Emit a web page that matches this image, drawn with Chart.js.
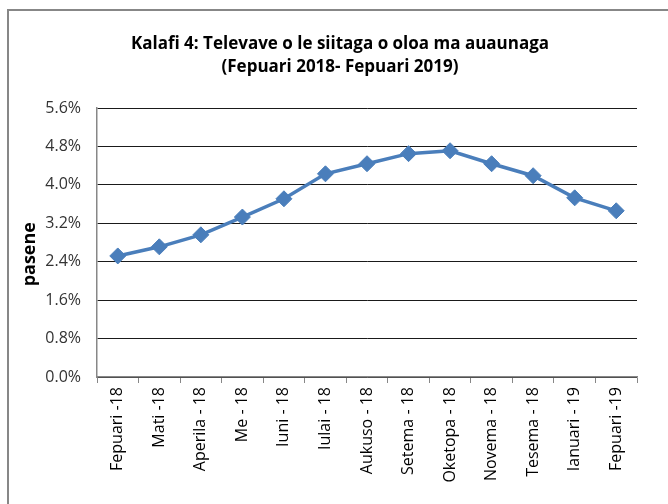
<!DOCTYPE html>
<html>
<head>
<meta charset="utf-8">
<script src="https://cdn.jsdelivr.net/npm/chart.js@4/dist/chart.umd.min.js"></script>
<style>
  body { margin: 0; background: #fff; }
  #wrap { position: relative; width: 668px; height: 504px; overflow: hidden; }
  #frame { position: absolute; left: 7px; top: 9px; width: 700px; height: 600px; border-top: 2px solid #878787; border-left: 2px solid #878787; }
  #myChart { position: absolute; left: 0; top: 0; }
</style>
</head>
<body>
<div id="wrap">
  <div id="frame"></div>
  <canvas id="myChart" width="668" height="504"></canvas>
</div>
<script>
// months (Fepuari 2018 - Fepuari 2019)
const months = ["Fepuari -18", "Mati -18", "Aperila - 18", "Me - 18", "Iuni - 18", "Iulai - 18",
  "Aukuso - 18", "Setema - 18", "Oketopa - 18", "Novema - 18", "Tesema - 18", "Ianuari - 19", "Fepuari -19"];
// percent change
const pasene = [2.52, 2.71, 2.96, 3.33, 3.71, 4.23, 4.44, 4.65, 4.71, 4.44, 4.19, 3.73, 3.46];
const yTicks = [0, 0.8, 1.6, 2.4, 3.2, 4.0, 4.8, 5.6];

const lineColor = "#4a7ebb";
const fontName = "'Open Sans', sans-serif";

// nudge the title so it's centered on the frame, not the padded box
const titleShift = {
  id: "titleShift",
  afterLayout(chart) {
    if (chart.titleBlock) {
      chart.titleBlock.left = 10;
      chart.titleBlock.right = 670;
    }
  },
};

new Chart("myChart", {
  type: "line",
  data: {
    labels: months,
    datasets: [
      {
        data: pasene,
        borderColor: lineColor,
        backgroundColor: lineColor,
        borderWidth: 3.5,
        pointStyle: "rectRot",
        pointRadius: 8,
        pointHoverRadius: 8,
        pointBorderWidth: 1,
        tension: 0,
      },
    ],
  },
  options: {
    responsive: false,
    animation: false,
    layout: { padding: { left: 10, right: 31, top: 0, bottom: 0 } },
    plugins: {
      legend: { display: false },
      tooltip: { enabled: false },
      title: {
        display: true,
        text: ["Kalafi 4: Televave o le siitaga o oloa ma auaunaga", "(Fepuari 2018- Fepuari 2019)"],
        color: "#000",
        font: { family: fontName, size: 17, weight: "bold", lineHeight: 23 / 17 },
        padding: { top: 33, bottom: 29 },
      },
    },
    scales: {
      x: {
        offset: true,
        grid: {
          offset: true,
          drawOnChartArea: false,
          drawTicks: true,
          tickLength: 6,
          color: "#878787",
        },
        border: { color: "#878787", width: 1.5 },
        ticks: {
          minRotation: 90,
          maxRotation: 90,
          autoSkip: false,
          padding: 4,
          color: "#000",
          font: { family: fontName, size: 16 },
        },
        afterFit: (scale) => {
          scale.height = 127;
        },
      },
      y: {
        min: 0,
        max: 5.6,
        afterBuildTicks: (scale) => {
          scale.ticks = yTicks.map((v) => ({ value: v }));
        },
        grid: { color: "#1a1a1a", drawTicks: false, lineWidth: 1 },
        border: { color: "#878787", width: 1.5 },
        ticks: {
          padding: 16,
          color: "#333",
          font: { family: fontName, size: 16 },
          callback: (v) => Number(v).toFixed(1) + "%",
        },
        title: {
          display: true,
          // trailing spaces push the word a bit lower, like the original
          text: "pasene     ",
          color: "#000",
          font: { family: fontName, size: 18, weight: "bold" },
          padding: 9,
        },
        afterFit: (scale) => {
          scale.width = 87;
        },
      },
    },
  },
  plugins: [titleShift],
});
</script>
</body>
</html>
